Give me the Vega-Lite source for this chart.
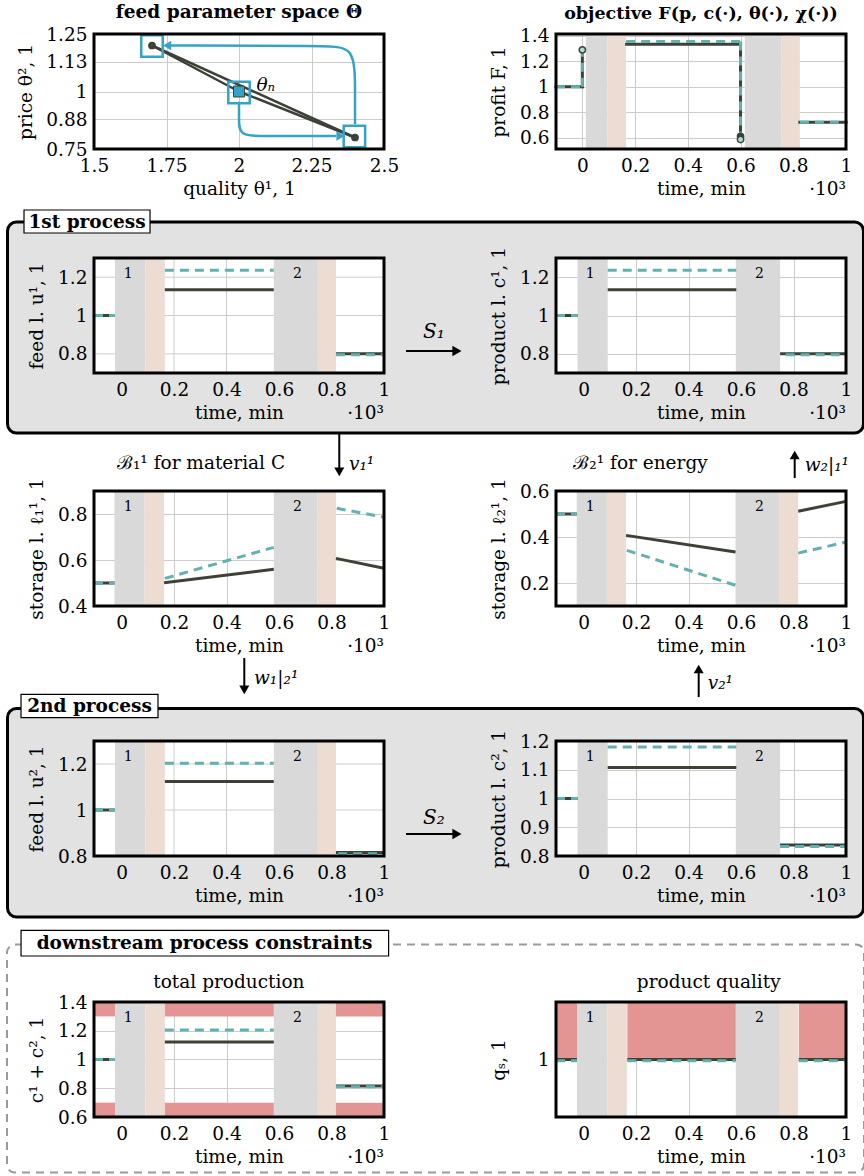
{
"$schema": "https://vega.github.io/schema/vega-lite/v6.json",
"padding": {"left": 5, "top": 2, "right": 0, "bottom": 0},
"background": "white",
"columns": 3,
"spacing": {"row": 109, "column": 10},
"bounds": "flush",
"datasets": {
"F": [
{"s":"d","t":-0.1,"t2":0,"v":1,"v2":1},{"s":"d","t":0,"t2":0,"v":1,"v2":1.29},{"s":"d","t":0.168,"t2":0.6,"v":1.335,"v2":1.335},{"s":"d","t":0.6,"t2":0.6,"v":1.335,"v2":0.61},{"s":"d","t":0.825,"t2":1,"v":0.72,"v2":0.72},
{"s":"c","t":-0.1,"t2":0,"v":1,"v2":1},{"s":"c","t":0,"t2":0,"v":1,"v2":1.29},{"s":"c","t":0.166,"t2":0.6,"v":1.355,"v2":1.355},{"s":"c","t":0.6,"t2":0.6,"v":1.355,"v2":0.585},{"s":"c","t":0.825,"t2":1,"v":0.72,"v2":0.72}],
"u1": [
{"s":"d","t":-0.105,"t2":-0.025,"v":1,"v2":1},{"s":"d","t":0.165,"t2":0.58,"v":1.135,"v2":1.135},{"s":"d","t":0.817,"t2":1,"v":0.8,"v2":0.8},
{"s":"c","t":-0.105,"t2":-0.025,"v":1,"v2":1},{"s":"c","t":0.165,"t2":0.58,"v":1.236,"v2":1.236},{"s":"c","t":0.817,"t2":1,"v":0.795,"v2":0.795}],
"c1": [
{"s":"d","t":-0.105,"t2":-0.023,"v":1,"v2":1},{"s":"d","t":0.092,"t2":0.582,"v":1.135,"v2":1.135},{"s":"d","t":0.749,"t2":1,"v":0.8,"v2":0.8},
{"s":"c","t":-0.105,"t2":-0.023,"v":1,"v2":1},{"s":"c","t":0.092,"t2":0.582,"v":1.236,"v2":1.236},{"s":"c","t":0.77,"t2":1,"v":0.795,"v2":0.795}],
"l1": [
{"s":"d","t":-0.105,"t2":-0.027,"v":0.5,"v2":0.5},{"s":"d","t":0.162,"t2":0.58,"v":0.501,"v2":0.56},{"s":"d","t":0.817,"t2":1,"v":0.607,"v2":0.564},
{"s":"c","t":-0.105,"t2":-0.027,"v":0.5,"v2":0.5},{"s":"c","t":0.165,"t2":0.58,"v":0.52,"v2":0.655},{"s":"c","t":0.82,"t2":1,"v":0.825,"v2":0.786}],
"l2": [
{"s":"d","t":-0.105,"t2":-0.026,"v":0.5,"v2":0.5},{"s":"d","t":0.162,"t2":0.579,"v":0.407,"v2":0.335},{"s":"d","t":0.818,"t2":1,"v":0.512,"v2":0.555},
{"s":"c","t":-0.105,"t2":-0.026,"v":0.5,"v2":0.5},{"s":"c","t":0.165,"t2":0.579,"v":0.342,"v2":0.19},{"s":"c","t":0.818,"t2":1,"v":0.33,"v2":0.378}],
"u2": [
{"s":"d","t":-0.105,"t2":-0.025,"v":1,"v2":1},{"s":"d","t":0.165,"t2":0.58,"v":1.124,"v2":1.124},{"s":"d","t":0.817,"t2":1,"v":0.815,"v2":0.815},
{"s":"c","t":-0.105,"t2":-0.025,"v":1,"v2":1},{"s":"c","t":0.165,"t2":0.58,"v":1.203,"v2":1.203},{"s":"c","t":0.825,"t2":1,"v":0.81,"v2":0.81}],
"c2": [
{"s":"d","t":-0.105,"t2":-0.023,"v":1,"v2":1},{"s":"d","t":0.092,"t2":0.582,"v":1.108,"v2":1.108},{"s":"d","t":0.749,"t2":1,"v":0.838,"v2":0.838},
{"s":"c","t":-0.105,"t2":-0.023,"v":1,"v2":1},{"s":"c","t":0.092,"t2":0.582,"v":1.179,"v2":1.179},{"s":"c","t":0.749,"t2":1,"v":0.833,"v2":0.833}],
"tp": [
{"s":"d","t":-0.105,"t2":-0.025,"v":1,"v2":1},{"s":"d","t":0.165,"t2":0.58,"v":1.122,"v2":1.122},{"s":"d","t":0.817,"t2":1,"v":0.815,"v2":0.815},
{"s":"c","t":-0.105,"t2":-0.025,"v":1,"v2":1},{"s":"c","t":0.165,"t2":0.58,"v":1.205,"v2":1.205},{"s":"c","t":0.817,"t2":1,"v":0.81,"v2":0.81}],
"pq": [
{"s":"d","t":-0.105,"t2":-0.025,"v":1,"v2":1},{"s":"d","t":0.167,"t2":0.58,"v":1,"v2":1},{"s":"d","t":0.82,"t2":1,"v":1,"v2":1},
{"s":"c","t":-0.105,"t2":-0.025,"v":0.998,"v2":0.998},{"s":"c","t":0.167,"t2":0.58,"v":0.998,"v2":0.998},{"s":"c","t":0.82,"t2":1,"v":0.998,"v2":0.998}]
},
"concat": [
{
 "width": 290, "height": 115,
 "title": {"text": "feed parameter space Θ", "offset": 4},
 "view": {"fill": "white"},
 "encoding": {
  "x": {"field": "x", "type": "quantitative", "title": "quality θ¹, 1", "scale": {"domain": [1.5, 2.5], "nice": false, "zero": false}, "axis": {"values": [1.5, 1.75, 2, 2.25, 2.5], "format": ".3~g"}},
  "y": {"field": "y", "type": "quantitative", "title": "price θ², 1", "scale": {"domain": [0.75, 1.25], "nice": false, "zero": false}, "axis": {"values": [0.75, 0.88, 1, 1.13, 1.25], "format": ".3~g", "minExtent": 48, "maxExtent": 48, "titlePadding": 11}}
 },
 "layer": [
  {"data": {"values": [{"x": 1.7, "x2": 2.0, "y": 1.2, "y2": 1.0}, {"x": 2.0, "x2": 2.4, "y": 1.0, "y2": 0.8}, {"x": 1.7, "x2": 2.4, "y": 1.2, "y2": 0.8}]}, "mark": {"type": "rule", "color": "#3c4235", "strokeWidth": 2.5}, "encoding": {"x2": {"field": "x2"}, "y2": {"field": "y2"}}},
  {"data": {"values": [
    {"g": "p", "i": 0, "x": 2.0, "y": 0.955}, {"g": "p", "i": 1, "x": 2.0, "y": 0.88}, {"g": "p", "i": 2, "x": 2.0, "y": 0.807}, {"g": "p", "i": 3, "x": 2.08, "y": 0.807}, {"g": "p", "i": 4, "x": 2.335, "y": 0.807},
    {"g": "q", "i": 0, "x": 2.4, "y": 0.858}, {"g": "q", "i": 1, "x": 2.4, "y": 1.0}, {"g": "q", "i": 2, "x": 2.4, "y": 1.197}, {"g": "q", "i": 3, "x": 2.3, "y": 1.197}, {"g": "q", "i": 4, "x": 1.765, "y": 1.2}]},
   "mark": {"type": "line", "interpolate": "basis", "color": "#35a3c6", "strokeWidth": 2.5}, "encoding": {"detail": {"field": "g"}, "order": {"field": "i"}}},
  {"data": {"values": [{"x": 2.35, "y": 0.807, "sh": "triangle-right"}, {"x": 1.752, "y": 1.2, "sh": "triangle-left"}]}, "mark": {"type": "point", "filled": true, "color": "#35a3c6", "opacity": 1, "size": 90}, "encoding": {"shape": {"field": "sh", "type": "nominal", "scale": null}}},
  {"data": {"values": [{"x": 1.7, "y": 1.198}, {"x": 2.0, "y": 0.996}, {"x": 2.398, "y": 0.804}]}, "mark": {"type": "point", "shape": "square", "filled": false, "color": "#35a3c6", "strokeWidth": 2.5, "size": 460, "opacity": 1}},
  {"data": {"values": [{"x": 1.7, "y": 1.2}, {"x": 2.4, "y": 0.8}]}, "mark": {"type": "circle", "color": "#3c4235", "size": 60, "opacity": 1}},
  {"data": {"values": [{"x": 2.0, "y": 1.0}]}, "mark": {"type": "point", "shape": "square", "filled": true, "fill": "#35a3c6", "stroke": "#3c4235", "strokeWidth": 1, "size": 120, "opacity": 1}},
  {"data": {"values": [{"x": 2.06, "y": 1.03, "txt": "θₙ"}]}, "mark": {"type": "text", "align": "left", "baseline": "middle", "fontStyle": "italic"}, "encoding": {"text": {"field": "txt"}}},
  {"data": {"values": [{"x": 1.5, "x2": 2.5, "y": 0.75, "y2": 1.25}]}, "mark": {"type": "rect", "fillOpacity": 0, "stroke": "black", "strokeWidth": 3}, "encoding": {"x2": {"field": "x2"}, "y2": {"field": "y2"}}}
 ]
},
{"width": 152, "height": 115, "data": {"values": []}, "mark": "point"},
{
 "width": 290, "height": 115,
 "title": {"text": "objective F(p, c(·), θ(·), χ(·))", "offset": 4, "fontSize": 17.5},
 "view": {"fill": "white"},
 "encoding": {
  "x": {"field": "t", "type": "quantitative", "title": "time, min", "scale": {"domain": [-0.1, 1], "nice": false, "zero": false}, "axis": {"values": [0, 0.2, 0.4, 0.6, 0.8, 1], "format": "~g"}},
  "y": {"field": "v", "type": "quantitative", "title": "profit F, 1", "scale": {"domain": [0.51, 1.415], "nice": false, "zero": false}, "axis": {"values": [0.6, 0.8, 1, 1.2, 1.4], "format": "~g"}}
 },
 "layer": [
  {"data": {"values": [{"t": 0.013, "t2": 0.095, "k": "g", "v": 0.51, "v2": 1.415}, {"t": 0.095, "t2": 0.166, "k": "o", "v": 0.51, "v2": 1.415}, {"t": 0.616, "t2": 0.754, "k": "g", "v": 0.51, "v2": 1.415}, {"t": 0.754, "t2": 0.825, "k": "o", "v": 0.51, "v2": 1.415}]}, "mark": {"type": "rect"}, "encoding": {"x2": {"field": "t2"}, "y2": {"field": "v2"}, "color": {"field": "k", "type": "nominal", "scale": {"domain": ["g", "o"], "range": ["#d9d9d9", "#ecdcd2"]}, "legend": null}}},
  {"data": {"name": "F"}, "transform": [{"filter": "datum.s == 'd'"}], "mark": {"type": "rule", "color": "#3c4235", "strokeWidth": 3, "strokeCap": "square"}, "encoding": {"x2": {"field": "t2"}, "y2": {"field": "v2"}}},
  {"data": {"name": "F"}, "transform": [{"filter": "datum.s == 'c'"}], "mark": {"type": "rule", "color": "#62b1b0", "strokeWidth": 3, "strokeDash": [9, 6]}, "encoding": {"x2": {"field": "t2"}, "y2": {"field": "v2"}}},
  {"data": {"values": [{"t": 0, "v": 1.29, "f": "l"}, {"t": 0.6, "v": 0.61, "f": "d"}, {"t": 0.6, "v": 0.585, "f": "l"}]}, "mark": {"type": "point", "shape": "circle", "filled": true, "stroke": "#3c4235", "strokeWidth": 1.5, "size": 40, "opacity": 1}, "encoding": {"fill": {"field": "f", "type": "nominal", "scale": {"domain": ["l", "d"], "range": ["#a9dcdb", "#3c4235"]}, "legend": null}}},
  {"data": {"values": [{"t": 1, "v": 0.148, "txt": "·10³"}]}, "mark": {"type": "text", "align": "right", "baseline": "alphabetic", "clip": false}, "encoding": {"text": {"field": "txt"}}},
  {"data": {"values": [{"t": -0.1, "t2": 1, "v": 0.51, "v2": 1.415}]}, "mark": {"type": "rect", "fillOpacity": 0, "stroke": "black", "strokeWidth": 3}, "encoding": {"x2": {"field": "t2"}, "y2": {"field": "v2"}}}
 ]
},
{
 "width": 290, "height": 115,
 "encoding": {
  "x": {"field": "t", "type": "quantitative", "title": "time, min", "scale": {"domain": [-0.105, 1], "nice": false, "zero": false}, "axis": {"values": [0, 0.2, 0.4, 0.6, 0.8, 1], "format": "~g", "zindex": 1, "grid": false}},
  "y": {"field": "v", "type": "quantitative", "title": "feed l. u¹, 1", "scale": {"domain": [0.7, 1.3], "nice": false, "zero": false}, "axis": {"values": [0.8, 1, 1.2], "format": "~g", "zindex": 1, "grid": false}}
 },
 "layer": [
  {"data": {"values": [{"t": -0.4346, "t2": 2.827, "v": 0.387, "v2": 1.4878}]}, "mark": {"type": "rect", "fill": "#e1e2e1", "stroke": "black", "strokeWidth": 3, "cornerRadius": 9, "clip": false}, "encoding": {"x2": {"field": "t2"}, "y2": {"field": "v2"}}},
  {"data": {"values": [{"t": -0.3717, "t2": 0.1084, "v": 1.4304, "v2": 1.5504}]}, "mark": {"type": "rect", "fill": "white", "stroke": "black", "strokeWidth": 1.2, "clip": false}, "encoding": {"x2": {"field": "t2"}, "y2": {"field": "v2"}}},
  {"data": {"values": [{"t": -0.1317, "v": 1.4878, "txt": "1st process"}]}, "mark": {"type": "text", "fontWeight": "bold", "baseline": "middle", "clip": false}, "encoding": {"text": {"field": "txt"}}},
  {"data": {"values": [{"t": -0.105, "t2": 1, "v": 0.7, "v2": 1.3}]}, "mark": {"type": "rect", "fill": "white"}, "encoding": {"x2": {"field": "t2"}, "y2": {"field": "v2"}}},
  {"data": {"values": [{"t": 0, "v": 0.7, "v2": 1.3}, {"t": 0.2, "v": 0.7, "v2": 1.3}, {"t": 0.4, "v": 0.7, "v2": 1.3}, {"t": 0.6, "v": 0.7, "v2": 1.3}, {"t": 0.8, "v": 0.7, "v2": 1.3}]}, "mark": {"type": "rule", "color": "#cccccc", "strokeWidth": 1}, "encoding": {"y2": {"field": "v2"}}},
  {"data": {"values": [{"t": -0.105, "t2": 1, "v": 0.8}, {"t": -0.105, "t2": 1, "v": 1}, {"t": -0.105, "t2": 1, "v": 1.2}]}, "mark": {"type": "rule", "color": "#cccccc", "strokeWidth": 1}, "encoding": {"x2": {"field": "t2"}}},
  {"data": {"values": [{"t": -0.025, "t2": 0.09, "k": "g", "v": 0.7, "v2": 1.3}, {"t": 0.09, "t2": 0.165, "k": "o", "v": 0.7, "v2": 1.3}, {"t": 0.58, "t2": 0.748, "k": "g", "v": 0.7, "v2": 1.3}, {"t": 0.748, "t2": 0.817, "k": "o", "v": 0.7, "v2": 1.3}]}, "mark": {"type": "rect"}, "encoding": {"x2": {"field": "t2"}, "y2": {"field": "v2"}, "color": {"field": "k", "type": "nominal", "scale": {"domain": ["g", "o"], "range": ["#d9d9d9", "#ecdcd2"]}, "legend": null}}},
  {"data": {"name": "u1"}, "transform": [{"filter": "datum.s == 'd'"}], "mark": {"type": "rule", "color": "#3c4235", "strokeWidth": 3}, "encoding": {"x2": {"field": "t2"}, "y2": {"field": "v2"}}},
  {"data": {"name": "u1"}, "transform": [{"filter": "datum.s == 'c'"}], "mark": {"type": "rule", "color": "#62b1b0", "strokeWidth": 3, "strokeDash": [9, 6]}, "encoding": {"x2": {"field": "t2"}, "y2": {"field": "v2"}}},
  {"data": {"values": [{"t": 0.025, "v": 1.2165, "txt": "1"}, {"t": 0.67, "v": 1.2165, "txt": "2"}]}, "mark": {"type": "text", "fontSize": 14, "baseline": "middle"}, "encoding": {"text": {"field": "txt"}}},
  {"data": {"values": [{"t": 1, "v": 0.46, "txt": "·10³"}]}, "mark": {"type": "text", "align": "right", "baseline": "alphabetic", "clip": false}, "encoding": {"text": {"field": "txt"}}},
  {"data": {"values": [{"t": -0.105, "t2": 1, "v": 0.7, "v2": 1.3}]}, "mark": {"type": "rect", "fillOpacity": 0, "stroke": "black", "strokeWidth": 3}, "encoding": {"x2": {"field": "t2"}, "y2": {"field": "v2"}}}
 ]
},
{
 "width": 152, "height": 124,
 "encoding": {
  "x": {"field": "a", "type": "quantitative", "scale": {"domain": [0, 1], "nice": false}, "axis": null},
  "y": {"field": "b", "type": "quantitative", "scale": {"domain": [0, 1], "nice": false, "reverse": true}, "axis": null}
 },
 "layer": [
  {"data": {"values": [{"a": 0.079, "a2": 0.4, "b": 0.75}]}, "mark": {"type": "rule", "strokeWidth": 2, "color": "black"}, "encoding": {"x2": {"field": "a2"}}},
  {"data": {"values": [{"a": 0.414, "b": 0.75}]}, "mark": {"type": "point", "shape": "triangle-right", "filled": true, "color": "black", "size": 110, "opacity": 1}},
  {"data": {"values": [{"a": 0.263, "b": 0.6, "txt": "S₁"}]}, "mark": {"type": "text", "fontStyle": "italic", "fontSize": 20, "baseline": "middle"}, "encoding": {"text": {"field": "txt"}}}
 ]
},
{
 "width": 290, "height": 115,
 "view": {"fill": "white"},
 "encoding": {
  "x": {"field": "t", "type": "quantitative", "title": "time, min", "scale": {"domain": [-0.105, 1], "nice": false, "zero": false}, "axis": {"values": [0, 0.2, 0.4, 0.6, 0.8, 1], "format": "~g"}},
  "y": {"field": "v", "type": "quantitative", "title": "product l. c¹, 1", "scale": {"domain": [0.7, 1.3], "nice": false, "zero": false}, "axis": {"values": [0.8, 1, 1.2], "format": "~g"}}
 },
 "layer": [
  {"data": {"values": [{"t": -0.023, "t2": 0.092, "k": "g", "v": 0.7, "v2": 1.3}, {"t": 0.58, "t2": 0.749, "k": "g", "v": 0.7, "v2": 1.3}]}, "mark": {"type": "rect"}, "encoding": {"x2": {"field": "t2"}, "y2": {"field": "v2"}, "color": {"field": "k", "type": "nominal", "scale": {"domain": ["g", "o"], "range": ["#d9d9d9", "#ecdcd2"]}, "legend": null}}},
  {"data": {"name": "c1"}, "transform": [{"filter": "datum.s == 'd'"}], "mark": {"type": "rule", "color": "#3c4235", "strokeWidth": 3}, "encoding": {"x2": {"field": "t2"}, "y2": {"field": "v2"}}},
  {"data": {"name": "c1"}, "transform": [{"filter": "datum.s == 'c'"}], "mark": {"type": "rule", "color": "#62b1b0", "strokeWidth": 3, "strokeDash": [9, 6]}, "encoding": {"x2": {"field": "t2"}, "y2": {"field": "v2"}}},
  {"data": {"values": [{"t": 0.025, "v": 1.2165, "txt": "1"}, {"t": 0.67, "v": 1.2165, "txt": "2"}]}, "mark": {"type": "text", "fontSize": 14, "baseline": "middle"}, "encoding": {"text": {"field": "txt"}}},
  {"data": {"values": [{"t": 1, "v": 0.46, "txt": "·10³"}]}, "mark": {"type": "text", "align": "right", "baseline": "alphabetic", "clip": false}, "encoding": {"text": {"field": "txt"}}},
  {"data": {"values": [{"t": -0.105, "t2": 1, "v": 0.7, "v2": 1.3}]}, "mark": {"type": "rect", "fillOpacity": 0, "stroke": "black", "strokeWidth": 3}, "encoding": {"x2": {"field": "t2"}, "y2": {"field": "v2"}}}
 ]
},
{
 "width": 290, "height": 115,
 "view": {"fill": "white"},
 "encoding": {
  "x": {"field": "t", "type": "quantitative", "title": "time, min", "scale": {"domain": [-0.105, 1], "nice": false, "zero": false}, "axis": {"values": [0, 0.2, 0.4, 0.6, 0.8, 1], "format": "~g"}},
  "y": {"field": "v", "type": "quantitative", "title": "storage l. ℓ₁¹, 1", "scale": {"domain": [0.4, 0.9], "nice": false, "zero": false}, "axis": {"values": [0.4, 0.6, 0.8], "format": "~g"}}
 },
 "layer": [
  {"data": {"values": [{"t": -0.027, "t2": 0.088, "k": "g", "v": 0.4, "v2": 0.9}, {"t": 0.088, "t2": 0.162, "k": "o", "v": 0.4, "v2": 0.9}, {"t": 0.58, "t2": 0.747, "k": "g", "v": 0.4, "v2": 0.9}, {"t": 0.747, "t2": 0.817, "k": "o", "v": 0.4, "v2": 0.9}]}, "mark": {"type": "rect"}, "encoding": {"x2": {"field": "t2"}, "y2": {"field": "v2"}, "color": {"field": "k", "type": "nominal", "scale": {"domain": ["g", "o"], "range": ["#d9d9d9", "#ecdcd2"]}, "legend": null}}},
  {"data": {"name": "l1"}, "transform": [{"filter": "datum.s == 'd'"}], "mark": {"type": "rule", "color": "#3c4235", "strokeWidth": 3}, "encoding": {"x2": {"field": "t2"}, "y2": {"field": "v2"}}},
  {"data": {"name": "l1"}, "transform": [{"filter": "datum.s == 'c'"}], "mark": {"type": "rule", "color": "#62b1b0", "strokeWidth": 3, "strokeDash": [9, 6]}, "encoding": {"x2": {"field": "t2"}, "y2": {"field": "v2"}}},
  {"data": {"values": [{"t": 0.025, "v": 0.83, "txt": "1"}, {"t": 0.67, "v": 0.83, "txt": "2"}]}, "mark": {"type": "text", "fontSize": 14, "baseline": "middle"}, "encoding": {"text": {"field": "txt"}}},
  {"data": {"values": [{"t": 1, "v": 0.2, "txt": "·10³"}]}, "mark": {"type": "text", "align": "right", "baseline": "alphabetic", "clip": false}, "encoding": {"text": {"field": "txt"}}},
  {"data": {"values": [{"t": 0.3027, "v": 0.9957, "txt": "ℬ₁¹ for material C"}]}, "mark": {"type": "text", "baseline": "alphabetic", "clip": false}, "encoding": {"text": {"field": "txt"}}},
  {"data": {"values": [{"t": 0.8296, "v": 0.996, "v2": 1.148}, {"t": 0.4677, "v": 0.05, "v2": 0.174}]}, "mark": {"type": "rule", "strokeWidth": 2, "color": "black", "clip": false}, "encoding": {"y2": {"field": "v2"}}},
  {"data": {"values": [{"t": 0.8296, "v": 0.983}, {"t": 0.4677, "v": 0.035}]}, "mark": {"type": "point", "shape": "triangle-down", "filled": true, "color": "black", "size": 100, "opacity": 1, "clip": false}},
  {"data": {"values": [{"t": 0.8666, "v": 1.019, "txt": "v₁¹"}, {"t": 0.5046, "v": 0.088, "txt": "w₁|₂¹"}]}, "mark": {"type": "text", "align": "left", "baseline": "middle", "fontStyle": "italic", "clip": false}, "encoding": {"text": {"field": "txt"}}},
  {"data": {"values": [{"t": -0.105, "t2": 1, "v": 0.4, "v2": 0.9}]}, "mark": {"type": "rect", "fillOpacity": 0, "stroke": "black", "strokeWidth": 3}, "encoding": {"x2": {"field": "t2"}, "y2": {"field": "v2"}}}
 ]
},
{"width": 152, "height": 141, "data": {"values": []}, "mark": "point"},
{
 "width": 290, "height": 115,
 "view": {"fill": "white"},
 "encoding": {
  "x": {"field": "t", "type": "quantitative", "title": "time, min", "scale": {"domain": [-0.105, 1], "nice": false, "zero": false}, "axis": {"values": [0, 0.2, 0.4, 0.6, 0.8, 1], "format": "~g"}},
  "y": {"field": "v", "type": "quantitative", "title": "storage l. ℓ₂¹, 1", "scale": {"domain": [0.1, 0.6], "nice": false, "zero": false}, "axis": {"values": [0.2, 0.4, 0.6], "format": "~g"}}
 },
 "layer": [
  {"data": {"values": [{"t": -0.026, "t2": 0.089, "k": "g", "v": 0.1, "v2": 0.6}, {"t": 0.089, "t2": 0.162, "k": "o", "v": 0.1, "v2": 0.6}, {"t": 0.579, "t2": 0.745, "k": "g", "v": 0.1, "v2": 0.6}, {"t": 0.745, "t2": 0.818, "k": "o", "v": 0.1, "v2": 0.6}]}, "mark": {"type": "rect"}, "encoding": {"x2": {"field": "t2"}, "y2": {"field": "v2"}, "color": {"field": "k", "type": "nominal", "scale": {"domain": ["g", "o"], "range": ["#d9d9d9", "#ecdcd2"]}, "legend": null}}},
  {"data": {"name": "l2"}, "transform": [{"filter": "datum.s == 'd'"}], "mark": {"type": "rule", "color": "#3c4235", "strokeWidth": 3}, "encoding": {"x2": {"field": "t2"}, "y2": {"field": "v2"}}},
  {"data": {"name": "l2"}, "transform": [{"filter": "datum.s == 'c'"}], "mark": {"type": "rule", "color": "#62b1b0", "strokeWidth": 3, "strokeDash": [9, 6]}, "encoding": {"x2": {"field": "t2"}, "y2": {"field": "v2"}}},
  {"data": {"values": [{"t": 0.025, "v": 0.53, "txt": "1"}, {"t": 0.67, "v": 0.53, "txt": "2"}]}, "mark": {"type": "text", "fontSize": 14, "baseline": "middle"}, "encoding": {"text": {"field": "txt"}}},
  {"data": {"values": [{"t": 1, "v": -0.1, "txt": "·10³"}]}, "mark": {"type": "text", "align": "right", "baseline": "alphabetic", "clip": false}, "encoding": {"text": {"field": "txt"}}},
  {"data": {"values": [{"t": 0.217, "v": 0.6957, "txt": "ℬ₂¹ for energy"}]}, "mark": {"type": "text", "baseline": "alphabetic", "clip": false}, "encoding": {"text": {"field": "txt"}}},
  {"data": {"values": [{"t": 0.8045, "v": 0.6565, "v2": 0.74}, {"t": 0.4387, "v": -0.2957, "v2": -0.19}]}, "mark": {"type": "rule", "strokeWidth": 2, "color": "black", "clip": false}, "encoding": {"y2": {"field": "v2"}}},
  {"data": {"values": [{"t": 0.8045, "v": 0.7565}, {"t": 0.4387, "v": -0.174}]}, "mark": {"type": "point", "shape": "triangle-up", "filled": true, "color": "black", "size": 100, "opacity": 1, "clip": false}},
  {"data": {"values": [{"t": 0.8426, "v": 0.713, "txt": "w₂|₁¹"}, {"t": 0.473, "v": -0.236, "txt": "v₂¹"}]}, "mark": {"type": "text", "align": "left", "baseline": "middle", "fontStyle": "italic", "clip": false}, "encoding": {"text": {"field": "txt"}}},
  {"data": {"values": [{"t": -0.105, "t2": 1, "v": 0.1, "v2": 0.6}]}, "mark": {"type": "rect", "fillOpacity": 0, "stroke": "black", "strokeWidth": 3}, "encoding": {"x2": {"field": "t2"}, "y2": {"field": "v2"}}}
 ]
},
{
 "width": 290, "height": 115,
 "encoding": {
  "x": {"field": "t", "type": "quantitative", "title": "time, min", "scale": {"domain": [-0.105, 1], "nice": false, "zero": false}, "axis": {"values": [0, 0.2, 0.4, 0.6, 0.8, 1], "format": "~g", "zindex": 1, "grid": false}},
  "y": {"field": "v", "type": "quantitative", "title": "feed l. u², 1", "scale": {"domain": [0.8, 1.3], "nice": false, "zero": false}, "axis": {"values": [0.8, 1, 1.2], "format": "~g", "zindex": 1, "grid": false}}
 },
 "layer": [
  {"data": {"values": [{"t": -0.4346, "t2": 2.827, "v": 0.5348, "v2": 1.4413}]}, "mark": {"type": "rect", "fill": "#e1e2e1", "stroke": "black", "strokeWidth": 3, "cornerRadius": 9, "clip": false}, "encoding": {"x2": {"field": "t2"}, "y2": {"field": "v2"}}},
  {"data": {"values": [{"t": -0.3831, "t2": 0.1388, "v": 1.4013, "v2": 1.503}]}, "mark": {"type": "rect", "fill": "white", "stroke": "black", "strokeWidth": 1.2, "clip": false}, "encoding": {"x2": {"field": "t2"}, "y2": {"field": "v2"}}},
  {"data": {"values": [{"t": -0.1221, "v": 1.4522, "txt": "2nd process"}]}, "mark": {"type": "text", "fontWeight": "bold", "baseline": "middle", "clip": false}, "encoding": {"text": {"field": "txt"}}},
  {"data": {"values": [{"t": -0.105, "t2": 1, "v": 0.8, "v2": 1.3}]}, "mark": {"type": "rect", "fill": "white"}, "encoding": {"x2": {"field": "t2"}, "y2": {"field": "v2"}}},
  {"data": {"values": [{"t": 0, "v": 0.8, "v2": 1.3}, {"t": 0.2, "v": 0.8, "v2": 1.3}, {"t": 0.4, "v": 0.8, "v2": 1.3}, {"t": 0.6, "v": 0.8, "v2": 1.3}, {"t": 0.8, "v": 0.8, "v2": 1.3}]}, "mark": {"type": "rule", "color": "#cccccc", "strokeWidth": 1}, "encoding": {"y2": {"field": "v2"}}},
  {"data": {"values": [{"t": -0.105, "t2": 1, "v": 1}, {"t": -0.105, "t2": 1, "v": 1.2}]}, "mark": {"type": "rule", "color": "#cccccc", "strokeWidth": 1}, "encoding": {"x2": {"field": "t2"}}},
  {"data": {"values": [{"t": -0.025, "t2": 0.09, "k": "g", "v": 0.8, "v2": 1.3}, {"t": 0.09, "t2": 0.165, "k": "o", "v": 0.8, "v2": 1.3}, {"t": 0.58, "t2": 0.748, "k": "g", "v": 0.8, "v2": 1.3}, {"t": 0.748, "t2": 0.817, "k": "o", "v": 0.8, "v2": 1.3}]}, "mark": {"type": "rect"}, "encoding": {"x2": {"field": "t2"}, "y2": {"field": "v2"}, "color": {"field": "k", "type": "nominal", "scale": {"domain": ["g", "o"], "range": ["#d9d9d9", "#ecdcd2"]}, "legend": null}}},
  {"data": {"name": "u2"}, "transform": [{"filter": "datum.s == 'd'"}], "mark": {"type": "rule", "color": "#3c4235", "strokeWidth": 3}, "encoding": {"x2": {"field": "t2"}, "y2": {"field": "v2"}}},
  {"data": {"name": "u2"}, "transform": [{"filter": "datum.s == 'c'"}], "mark": {"type": "rule", "color": "#62b1b0", "strokeWidth": 3, "strokeDash": [9, 6]}, "encoding": {"x2": {"field": "t2"}, "y2": {"field": "v2"}}},
  {"data": {"values": [{"t": 0.025, "v": 1.2304, "txt": "1"}, {"t": 0.67, "v": 1.2304, "txt": "2"}]}, "mark": {"type": "text", "fontSize": 14, "baseline": "middle"}, "encoding": {"text": {"field": "txt"}}},
  {"data": {"values": [{"t": 1, "v": 0.6, "txt": "·10³"}]}, "mark": {"type": "text", "align": "right", "baseline": "alphabetic", "clip": false}, "encoding": {"text": {"field": "txt"}}},
  {"data": {"values": [{"t": -0.105, "t2": 1, "v": 0.8, "v2": 1.3}]}, "mark": {"type": "rect", "fillOpacity": 0, "stroke": "black", "strokeWidth": 3}, "encoding": {"x2": {"field": "t2"}, "y2": {"field": "v2"}}}
 ]
},
{
 "width": 152, "height": 152,
 "encoding": {
  "x": {"field": "a", "type": "quantitative", "scale": {"domain": [0, 1], "nice": false}, "axis": null},
  "y": {"field": "b", "type": "quantitative", "scale": {"domain": [0, 1], "nice": false, "reverse": true}, "axis": null}
 },
 "layer": [
  {"data": {"values": [{"a": 0.079, "a2": 0.4, "b": 0.612}]}, "mark": {"type": "rule", "strokeWidth": 2, "color": "black"}, "encoding": {"x2": {"field": "a2"}}},
  {"data": {"values": [{"a": 0.414, "b": 0.612}]}, "mark": {"type": "point", "shape": "triangle-right", "filled": true, "color": "black", "size": 110, "opacity": 1}},
  {"data": {"values": [{"a": 0.263, "b": 0.505, "txt": "S₂"}]}, "mark": {"type": "text", "fontStyle": "italic", "fontSize": 20, "baseline": "middle"}, "encoding": {"text": {"field": "txt"}}}
 ]
},
{
 "width": 290, "height": 115,
 "view": {"fill": "white"},
 "encoding": {
  "x": {"field": "t", "type": "quantitative", "title": "time, min", "scale": {"domain": [-0.105, 1], "nice": false, "zero": false}, "axis": {"values": [0, 0.2, 0.4, 0.6, 0.8, 1], "format": "~g"}},
  "y": {"field": "v", "type": "quantitative", "title": "product l. c², 1", "scale": {"domain": [0.8, 1.2], "nice": false, "zero": false}, "axis": {"values": [0.8, 0.9, 1, 1.1, 1.2], "format": "~g"}}
 },
 "layer": [
  {"data": {"values": [{"t": -0.023, "t2": 0.092, "k": "g", "v": 0.8, "v2": 1.2}, {"t": 0.58, "t2": 0.749, "k": "g", "v": 0.8, "v2": 1.2}]}, "mark": {"type": "rect"}, "encoding": {"x2": {"field": "t2"}, "y2": {"field": "v2"}, "color": {"field": "k", "type": "nominal", "scale": {"domain": ["g", "o"], "range": ["#d9d9d9", "#ecdcd2"]}, "legend": null}}},
  {"data": {"name": "c2"}, "transform": [{"filter": "datum.s == 'd'"}], "mark": {"type": "rule", "color": "#3c4235", "strokeWidth": 3}, "encoding": {"x2": {"field": "t2"}, "y2": {"field": "v2"}}},
  {"data": {"name": "c2"}, "transform": [{"filter": "datum.s == 'c'"}], "mark": {"type": "rule", "color": "#62b1b0", "strokeWidth": 3, "strokeDash": [9, 6]}, "encoding": {"x2": {"field": "t2"}, "y2": {"field": "v2"}}},
  {"data": {"values": [{"t": 0.025, "v": 1.1443, "txt": "1"}, {"t": 0.67, "v": 1.1443, "txt": "2"}]}, "mark": {"type": "text", "fontSize": 14, "baseline": "middle"}, "encoding": {"text": {"field": "txt"}}},
  {"data": {"values": [{"t": 1, "v": 0.64, "txt": "·10³"}]}, "mark": {"type": "text", "align": "right", "baseline": "alphabetic", "clip": false}, "encoding": {"text": {"field": "txt"}}},
  {"data": {"values": [{"t": -0.105, "t2": 1, "v": 0.8, "v2": 1.2}]}, "mark": {"type": "rect", "fillOpacity": 0, "stroke": "black", "strokeWidth": 3}, "encoding": {"x2": {"field": "t2"}, "y2": {"field": "v2"}}}
 ]
},
{
 "width": 290, "height": 115,
 "view": {"fill": "white"},
 "encoding": {
  "x": {"field": "t", "type": "quantitative", "title": "time, min", "scale": {"domain": [-0.105, 1], "nice": false, "zero": false}, "axis": {"values": [0, 0.2, 0.4, 0.6, 0.8, 1], "format": "~g"}},
  "y": {"field": "v", "type": "quantitative", "title": "c¹ + c², 1", "scale": {"domain": [0.6, 1.4], "nice": false, "zero": false}, "axis": {"values": [0.6, 0.8, 1, 1.2, 1.4], "format": "~g"}}
 },
 "layer": [
  {"data": {"values": [{"t": -0.4365, "t2": 2.829, "v": 0.2139, "v2": 1.8}]}, "mark": {"type": "rect", "fillOpacity": 0, "stroke": "#9a9a9a", "strokeWidth": 2, "strokeDash": [8, 6], "cornerRadius": 8, "clip": false}, "encoding": {"x2": {"field": "t2"}, "y2": {"field": "v2"}}},
  {"data": {"values": [{"t": -0.383, "t2": 1.0176, "v": 1.72, "v2": 1.8988}]}, "mark": {"type": "rect", "fill": "white", "stroke": "black", "strokeWidth": 1.2, "clip": false}, "encoding": {"x2": {"field": "t2"}, "y2": {"field": "v2"}}},
  {"data": {"values": [{"t": 0.316, "v": 1.8104, "txt": "downstream process constraints"}]}, "mark": {"type": "text", "fontWeight": "bold", "baseline": "middle", "clip": false}, "encoding": {"text": {"field": "txt"}}},
  {"data": {"values": [{"t": 0.409, "v": 1.4974, "txt": "total production"}]}, "mark": {"type": "text", "baseline": "alphabetic", "clip": false}, "encoding": {"text": {"field": "txt"}}},
  {"data": {"values": [{"t": -0.025, "t2": 0.09, "k": "g", "v": 0.6, "v2": 1.4}, {"t": 0.09, "t2": 0.165, "k": "o", "v": 0.6, "v2": 1.4}, {"t": 0.58, "t2": 0.748, "k": "g", "v": 0.6, "v2": 1.4}, {"t": 0.748, "t2": 0.817, "k": "o", "v": 0.6, "v2": 1.4}]}, "mark": {"type": "rect"}, "encoding": {"x2": {"field": "t2"}, "y2": {"field": "v2"}, "color": {"field": "k", "type": "nominal", "scale": {"domain": ["g", "o"], "range": ["#d9d9d9", "#ecdcd2"]}, "legend": null}}},
  {"data": {"values": [{"t": -0.105, "t2": -0.025, "v": 1.3, "v2": 1.4}, {"t": 0.165, "t2": 0.58, "v": 1.3, "v2": 1.4}, {"t": 0.817, "t2": 1, "v": 1.3, "v2": 1.4}, {"t": -0.105, "t2": -0.025, "v": 0.6, "v2": 0.7}, {"t": 0.165, "t2": 0.58, "v": 0.6, "v2": 0.7}, {"t": 0.817, "t2": 1, "v": 0.6, "v2": 0.7}]}, "mark": {"type": "rect", "color": "#e39594", "opacity": 1}, "encoding": {"x2": {"field": "t2"}, "y2": {"field": "v2"}}},
  {"data": {"name": "tp"}, "transform": [{"filter": "datum.s == 'd'"}], "mark": {"type": "rule", "color": "#3c4235", "strokeWidth": 3}, "encoding": {"x2": {"field": "t2"}, "y2": {"field": "v2"}}},
  {"data": {"name": "tp"}, "transform": [{"filter": "datum.s == 'c'"}], "mark": {"type": "rule", "color": "#62b1b0", "strokeWidth": 3, "strokeDash": [9, 6]}, "encoding": {"x2": {"field": "t2"}, "y2": {"field": "v2"}}},
  {"data": {"values": [{"t": 0.025, "v": 1.2887, "txt": "1"}, {"t": 0.67, "v": 1.2887, "txt": "2"}]}, "mark": {"type": "text", "fontSize": 14, "baseline": "middle"}, "encoding": {"text": {"field": "txt"}}},
  {"data": {"values": [{"t": 1, "v": 0.28, "txt": "·10³"}]}, "mark": {"type": "text", "align": "right", "baseline": "alphabetic", "clip": false}, "encoding": {"text": {"field": "txt"}}},
  {"data": {"values": [{"t": -0.105, "t2": 1, "v": 0.6, "v2": 1.4}]}, "mark": {"type": "rect", "fillOpacity": 0, "stroke": "black", "strokeWidth": 3}, "encoding": {"x2": {"field": "t2"}, "y2": {"field": "v2"}}}
 ]
},
{"width": 152, "height": 115, "data": {"values": []}, "mark": "point"},
{
 "width": 290, "height": 115,
 "view": {"fill": "white"},
 "encoding": {
  "x": {"field": "t", "type": "quantitative", "title": "time, min", "scale": {"domain": [-0.105, 1], "nice": false, "zero": false}, "axis": {"values": [0, 0.2, 0.4, 0.6, 0.8, 1], "format": "~g"}},
  "y": {"field": "v", "type": "quantitative", "title": "qₛ, 1", "scale": {"domain": [0.9, 1.1], "nice": false, "zero": false}, "axis": {"values": [1], "format": "~g"}}
 },
 "layer": [
  {"data": {"values": [{"t": -0.025, "t2": 0.09, "k": "g", "v": 0.9, "v2": 1.1}, {"t": 0.09, "t2": 0.165, "k": "o", "v": 0.9, "v2": 1.1}, {"t": 0.58, "t2": 0.748, "k": "g", "v": 0.9, "v2": 1.1}, {"t": 0.748, "t2": 0.817, "k": "o", "v": 0.9, "v2": 1.1}]}, "mark": {"type": "rect"}, "encoding": {"x2": {"field": "t2"}, "y2": {"field": "v2"}, "color": {"field": "k", "type": "nominal", "scale": {"domain": ["g", "o"], "range": ["#d9d9d9", "#ecdcd2"]}, "legend": null}}},
  {"data": {"values": [{"t": -0.105, "t2": -0.025, "v": 1, "v2": 1.1}, {"t": 0.167, "t2": 0.58, "v": 1, "v2": 1.1}, {"t": 0.82, "t2": 1, "v": 1, "v2": 1.1}]}, "mark": {"type": "rect", "color": "#e39594", "opacity": 1}, "encoding": {"x2": {"field": "t2"}, "y2": {"field": "v2"}}},
  {"data": {"name": "pq"}, "transform": [{"filter": "datum.s == 'd'"}], "mark": {"type": "rule", "color": "#3c4235", "strokeWidth": 3}, "encoding": {"x2": {"field": "t2"}, "y2": {"field": "v2"}}},
  {"data": {"name": "pq"}, "transform": [{"filter": "datum.s == 'c'"}], "mark": {"type": "rule", "color": "#62b1b0", "strokeWidth": 3, "strokeDash": [9, 6]}, "encoding": {"x2": {"field": "t2"}, "y2": {"field": "v2"}}},
  {"data": {"values": [{"t": 0.025, "v": 1.0722, "txt": "1"}, {"t": 0.67, "v": 1.0722, "txt": "2"}]}, "mark": {"type": "text", "fontSize": 14, "baseline": "middle"}, "encoding": {"text": {"field": "txt"}}},
  {"data": {"values": [{"t": 1, "v": 0.82, "txt": "·10³"}]}, "mark": {"type": "text", "align": "right", "baseline": "alphabetic", "clip": false}, "encoding": {"text": {"field": "txt"}}},
  {"data": {"values": [{"t": 0.477, "v": 1.1243, "txt": "product quality"}]}, "mark": {"type": "text", "baseline": "alphabetic", "clip": false}, "encoding": {"text": {"field": "txt"}}},
  {"data": {"values": [{"t": -0.105, "t2": 1, "v": 0.9, "v2": 1.1}]}, "mark": {"type": "rect", "fillOpacity": 0, "stroke": "black", "strokeWidth": 3}, "encoding": {"x2": {"field": "t2"}, "y2": {"field": "v2"}}}
 ]
}
],
"config": {
 "font": "DejaVu Serif",
 "view": {"stroke": null},
 "axis": {"labelFont": "DejaVu Serif", "titleFont": "DejaVu Serif", "labelFontSize": 18.5, "titleFontSize": 18.5, "titleFontWeight": "normal", "labelColor": "black", "titleColor": "black", "grid": true, "gridColor": "#cccccc", "gridWidth": 1, "domain": false, "ticks": false, "tickSize": 0, "labelPadding": 7, "labelFlush": false, "labelOverlap": false},
 "axisX": {"titlePadding": 5},
 "axisY": {"titlePadding": 12, "minExtent": 36, "maxExtent": 36},
 "title": {"font": "DejaVu Serif", "fontSize": 18.5, "fontWeight": "bold", "color": "black"},
 "text": {"font": "DejaVu Serif", "fontSize": 18.5, "color": "black"}
}
}
